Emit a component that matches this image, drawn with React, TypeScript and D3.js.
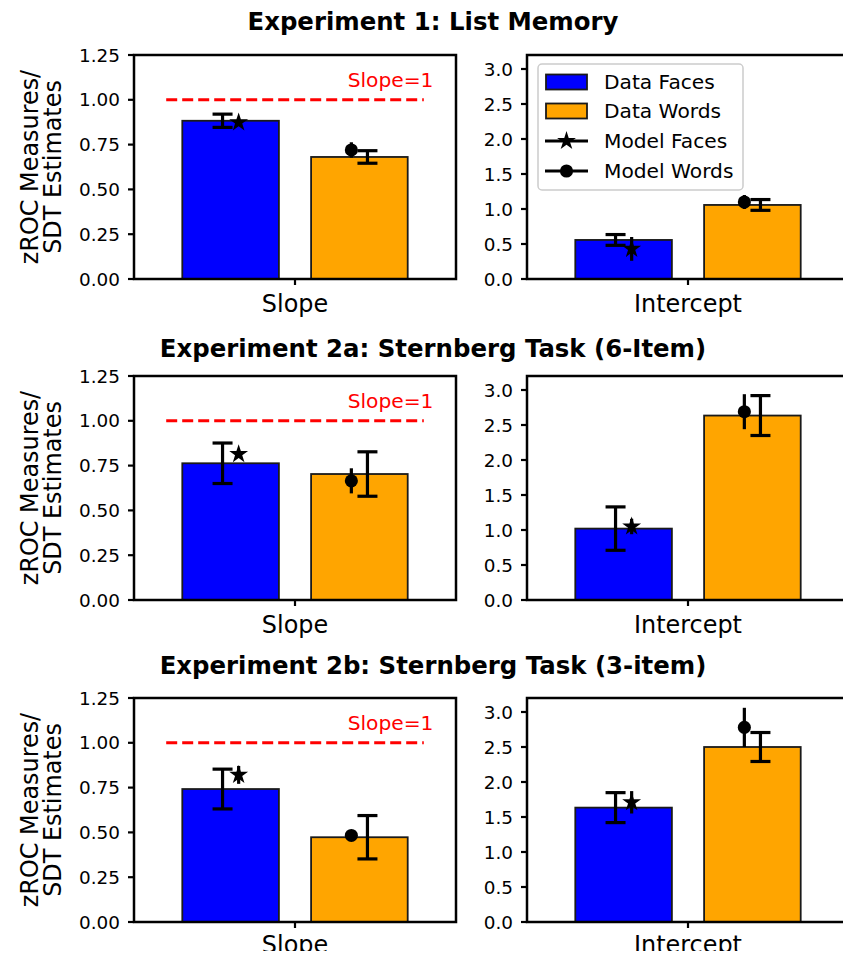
import React from "react";
import * as d3 from "d3";

// chart data
const titles = [
  "Experiment 1: List Memory",
  "Experiment 2a: Sternberg Task (6-Item)",
  "Experiment 2b: Sternberg Task (3-item)",
];
const measures = ["Slope", "Intercept"];

const slopeDataFaces = [0.883, 0.763, 0.742];
const slopeDataFacesErr = [0.037, 0.113, 0.111];
const slopeDataWords = [0.681, 0.703, 0.473];
const slopeDataWordsErr = [0.035, 0.124, 0.121];
const slopeModelFaces = [0.874, 0.814, 0.821];
const slopeModelFacesErr = [0.008, 0.008, 0.05];
const slopeModelWords = [0.72, 0.665, 0.483];
const slopeModelWordsErr = [0.043, 0.07, 0.02];

const interceptDataFaces = [0.558, 1.02, 1.634];
const interceptDataFacesErr = [0.077, 0.31, 0.214];
const interceptDataWords = [1.058, 2.635, 2.5];
const interceptDataWordsErr = [0.077, 0.285, 0.207];
const interceptModelFaces = [0.43, 1.05, 1.71];
const interceptModelFacesErr = [0.17, 0.11, 0.16];
const interceptModelWords = [1.1, 2.69, 2.78];
const interceptModelWordsErr = [0.1, 0.25, 0.28];

const slopeTicks = [0, 0.25, 0.5, 0.75, 1.0, 1.25];
const interceptTicks = [0, 0.5, 1.0, 1.5, 2.0, 2.5, 3.0];
const legendLabels = ["Data Faces", "Data Words", "Model Faces", "Model Words"];
const slopeReference = 1;

const BLUE = "#0000ff";
const ORANGE = "#ffa500";
const FONT = "'DejaVu Sans', sans-serif";

const W = 851;
const H = 959;
const rowTop = [55, 376, 698];
const titleY = [30, 357, 674];
const panelH = 224;
const panelX = [
  [134, 456],
  [527, 849],
];

type PanelProps = {
  row: number;
  col: number;
};

const ErrorBar = ({ x, y0, y1, cap }: { x: number; y0: number; y1: number; cap: number }) => (
  <g stroke="#000" strokeWidth={3.2}>
    <line x1={x} x2={x} y1={y0} y2={y1} />
    {cap > 0 && (
      <>
        <line x1={x - cap} x2={x + cap} y1={y0} y2={y0} />
        <line x1={x - cap} x2={x + cap} y1={y1} y2={y1} />
      </>
    )}
  </g>
);

const star = d3.symbol().type(d3.symbolStar).size(110)()!;
const dot = d3.symbol().type(d3.symbolCircle).size(135)()!;

const Panel = ({ row, col }: PanelProps) => {
  const isSlope = col === 0;
  const top = rowTop[row];
  const [x0, x1] = panelX[col];
  const x = d3.scaleLinear().domain([-0.5, 0.5]).range([x0, x1]);
  const y = d3
    .scaleLinear()
    .domain(isSlope ? [0, 1.25] : [0, 3.2])
    .range([top + panelH, top]);
  const ticks = isSlope ? slopeTicks : interceptTicks;
  const fmt = d3.format(isSlope ? ".2f" : ".1f");

  const dF = isSlope ? slopeDataFaces[row] : interceptDataFaces[row];
  const dFe = isSlope ? slopeDataFacesErr[row] : interceptDataFacesErr[row];
  const dW = isSlope ? slopeDataWords[row] : interceptDataWords[row];
  const dWe = isSlope ? slopeDataWordsErr[row] : interceptDataWordsErr[row];
  const mF = isSlope ? slopeModelFaces[row] : interceptModelFaces[row];
  const mFe = isSlope ? slopeModelFacesErr[row] : interceptModelFacesErr[row];
  const mW = isSlope ? slopeModelWords[row] : interceptModelWords[row];
  const mWe = isSlope ? slopeModelWordsErr[row] : interceptModelWordsErr[row];

  const bw = x(0.15) - x(-0.15);
  const bars = [
    { c: -0.2, v: dF, fill: BLUE },
    { c: 0.2, v: dW, fill: ORANGE },
  ];
  // last row's labels sit at the bottom edge, as in the reference
  const labelY = row === 2 ? top + panelH + 31 : top + panelH + 33;

  return (
    <g>
      {bars.map((b, i) => (
        <rect
          key={i}
          x={x(b.c) - bw / 2}
          y={y(b.v)}
          width={bw}
          height={y(0) - y(b.v)}
          fill={b.fill}
          stroke="#1a1a1a"
          strokeWidth={1.8}
        />
      ))}
      {isSlope && (
        <g>
          <line
            x1={x(-0.4)}
            x2={x(0.4)}
            y1={y(slopeReference)}
            y2={y(slopeReference)}
            stroke="#ff0000"
            strokeWidth={3}
            strokeDasharray="11,5"
          />
          <text x={x(0.43)} y={y(1.07)} textAnchor="end" fill="#ff0000" fontSize={20.2} fontFamily={FONT}>
            Slope=1
          </text>
        </g>
      )}
      <ErrorBar x={x(-0.225)} y0={y(dF + dFe)} y1={y(dF - dFe)} cap={10} />
      <ErrorBar x={x(0.225)} y0={y(dW + dWe)} y1={y(dW - dWe)} cap={10} />
      <ErrorBar x={x(-0.175)} y0={y(mF + mFe)} y1={y(mF - mFe)} cap={0} />
      <ErrorBar x={x(0.175)} y0={y(mW + mWe)} y1={y(mW - mWe)} cap={0} />
      <path d={star} transform={`translate(${x(-0.175)},${y(mF)})`} fill="#000" />
      <path d={dot} transform={`translate(${x(0.175)},${y(mW)})`} fill="#000" />

      <rect x={x0} y={top} width={x1 - x0} height={panelH} fill="none" stroke="#000" strokeWidth={2.5} />
      {ticks.map((t) => (
        <g key={t}>
          <line x1={x0 - 6} x2={x0} y1={y(t)} y2={y(t)} stroke="#000" strokeWidth={2.2} />
          <text
            x={x0 - 14}
            y={y(t)}
            dy="0.36em"
            textAnchor="end"
            fontSize={18.4}
            fontFamily={FONT}
            fill="#000"
          >
            {fmt(t)}
          </text>
        </g>
      ))}
      <line x1={x(0)} x2={x(0)} y1={top + panelH} y2={top + panelH + 6} stroke="#000" strokeWidth={2.2} />
      <text x={x(0)} y={labelY} textAnchor="middle" fontSize={23.9} fontFamily={FONT} fill="#000">
        {measures[col]}
      </text>
      {isSlope && (
        <g fontSize={23.9} fontFamily={FONT} fill="#000" textAnchor="middle">
          <text transform={`translate(38,${top + panelH / 2}) rotate(-90)`}>zROC Measures/</text>
          <text transform={`translate(61,${top + panelH / 2}) rotate(-90)`}>SDT Estimates</text>
        </g>
      )}
    </g>
  );
};

const Legend = () => {
  const lx = 538;
  const ly = 64;
  const rows = [82, 111, 141, 171];
  return (
    <g fontFamily={FONT} fontSize={20.2}>
      <rect x={lx} y={ly} width={205} height={126} rx={4} fill="#fff" fillOpacity={0.8} stroke="#cccccc" strokeWidth={1.5} />
      {legendLabels.map((lab, i) => {
        const cy = rows[i];
        return (
          <g key={lab}>
            {i < 2 ? (
              <rect x={546} y={cy - 7.5} width={41} height={15} fill={i === 0 ? BLUE : ORANGE} stroke="#1a1a1a" strokeWidth={1.8} />
            ) : (
              <g>
                <line x1={545} x2={588} y1={cy} y2={cy} stroke="#000" strokeWidth={3.2} />
                <path d={i === 2 ? star : dot} transform={`translate(566.5,${cy})`} fill="#000" />
              </g>
            )}
            <text x={604} y={cy} dy="0.36em" fill="#000">
              {lab}
            </text>
          </g>
        );
      })}
    </g>
  );
};

export default function App() {
  return (
    <svg width={W} height={H} style={{ display: "block", margin: "-8px", background: "#fff" }}>
      <rect width={W} height={H} fill="#fff" />
      {titles.map((t, i) => (
        <text
          key={t}
          x={433}
          y={titleY[i]}
          textAnchor="middle"
          fontSize={24.4}
          fontWeight="bold"
          fontFamily={FONT}
          fill="#000"
        >
          {t}
        </text>
      ))}
      {[0, 1, 2].map((r) =>
        [0, 1].map((c) => <Panel key={`${r}-${c}`} row={r} col={c} />)
      )}
      <Legend />
    </svg>
  );
}
